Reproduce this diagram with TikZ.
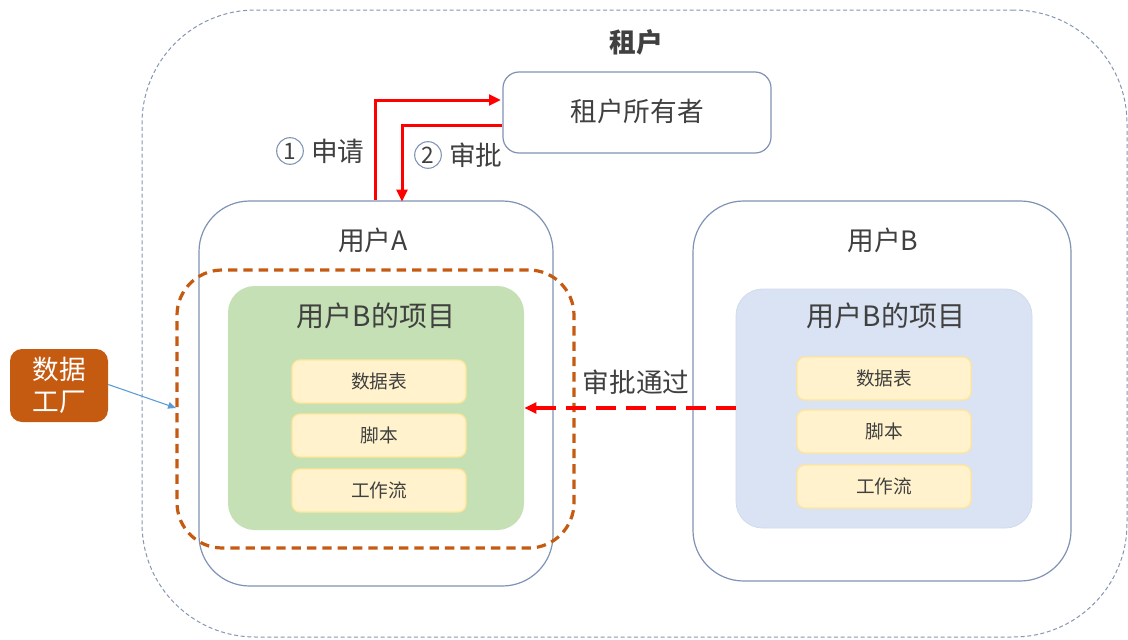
\documentclass[tikz,border=0pt]{standalone}
\usepackage{fontspec}
\setmainfont{Noto Sans CJK SC}
\usetikzlibrary{arrows.meta}
\definecolor{txt}{HTML}{404040}
\definecolor{outerc}{HTML}{8497B0}
\definecolor{boxc}{HTML}{7F93B5}
\definecolor{orangec}{HTML}{C55A11}
\definecolor{greenc}{HTML}{C5E0B4}
\definecolor{bluec}{HTML}{DAE3F3}
\definecolor{yelc}{HTML}{FFF2CC}
\definecolor{yelb}{HTML}{FFE699}
\definecolor{redc}{HTML}{FF0000}
\definecolor{arrb}{HTML}{5B9BD5}
\begin{document}
\begin{tikzpicture}[x=0.75pt,y=-0.75pt,
  sz/.style 2 args={minimum width=#1*0.75pt, minimum height=#2*0.75pt, inner sep=0pt},
  lbl/.style={text=txt, font=\fontsize{#1}{#1}\selectfont, inner sep=0pt},
  itembox/.style={sz={174}{43}, fill=yelc, draw=yelb, line width=1pt, rounded corners=6pt, text=txt, font=\fontsize{14}{14}\selectfont},
  redarr/.style={draw=redc, line width=2.25pt, -{Triangle[length=9pt,width=8pt]}},
  num/.style={circle, draw=boxc, line width=0.8pt, minimum size=20pt, inner sep=0pt, text=txt, font=\fontsize{17}{17}\selectfont}
]
\useasboundingbox (0,0) rectangle (1128,639);
\fill[white] (0,0) rectangle (1128,639);

% tenant
\node[sz={985}{627}, draw=outerc, line width=0.75pt, dash pattern=on 3pt off 2pt, rounded corners=85pt] (tenant) at (634.5,323.5) {};
\node[lbl=20, font=\fontsize{20}{20}\selectfont\bfseries] (tenantt) at (636,42) {租户};

% owner
\node[sz={268}{81}, draw=boxc, line width=0.9pt, rounded corners=12pt, fill=white] (owner) at (637,112.5) {};
\node[lbl=20] (ownert) at (637,111) {租户所有者};

% user A / B
\node[sz={354}{385}, draw=boxc, line width=0.9pt, rounded corners=38pt] (ua) at (376,393.5) {};
\node[lbl=20] (uat) at (373,240) {用户A};
\node[sz={378}{380}, draw=boxc, line width=0.9pt, rounded corners=38pt] (ub) at (882,391) {};
\node[lbl=20] (ubt) at (883,240) {用户B};

% projects
\node[sz={296}{244}, fill=greenc, rounded corners=20pt] (pa) at (376,408) {};
\node[lbl=21] (pat) at (376,316) {用户B的项目};
\node[sz={296}{239}, fill=bluec, draw=bluec!90!boxc, line width=0.6pt, rounded corners=20pt] (pb) at (884,408.5) {};
\node[lbl=21] (pbt) at (886,316) {用户B的项目};

% items
\node[itembox] (a1) at (379,381.5) {数据表};
\node[itembox] (a2) at (379,435.5) {脚本};
\node[itembox] (a3) at (379,490.5) {工作流};
\node[itembox] (b1) at (884,378.5) {数据表};
\node[itembox] (b2) at (884,431.5) {脚本};
\node[itembox] (b3) at (884,486.5) {工作流};

% orange dashed selection
\node[sz={397}{278}, draw=orangec, line width=2.4pt, dash pattern=on 7pt off 4.5pt, rounded corners=34pt] (sel) at (375.5,409) {};

% data factory
\node[sz={98}{73}, fill=orangec, rounded corners=9pt, text=white, align=center, font=\fontsize{20}{24}\selectfont] (df) at (59,385.5) {数据\\工厂};
\coordinate (dfend) at (176,408);
\draw[arrb, line width=0.8pt, -{Triangle[length=6pt,width=5pt]}] (df.east) ++(0,-1) -- (dfend);

% red arrows
\coordinate (x1) at (375,100);
\coordinate (x2) at (402,125);
\draw[redarr] (x1 |- ua.north) -- (x1) -- ([xshift=-1pt]owner.west |- x1);
\draw[redarr] (owner.west |- x2) -- (x2) -- ([yshift=-1pt]x2 |- ua.north);

\node[num] (n1) at (290,151) {1};
\node[lbl=20, anchor=west] (l1) at (311,151) {申请};
\node[num] (n2) at (428,155) {2};
\node[lbl=20, anchor=west] (l2) at (449,155) {审批};

% approval dashed arrow
\coordinate (y3) at (0,408);
\draw[draw=redc, line width=2.4pt, dash pattern=on 15pt off 7.5pt, -{Triangle[length=9pt,width=8pt]}] (pb.west |- y3) -- (pa.east |- y3);
\node[lbl=20] (appt) at (636,382) {审批通过};
\end{tikzpicture}
\end{document}
